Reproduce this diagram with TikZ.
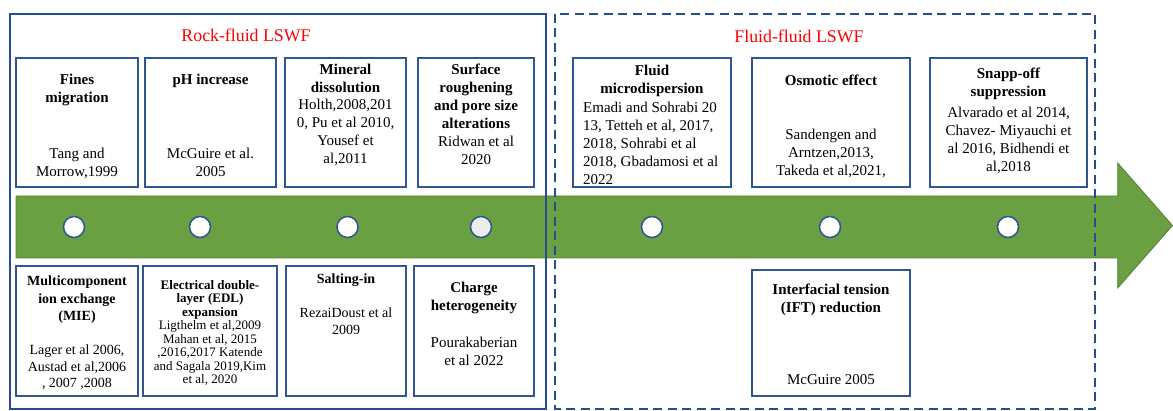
\documentclass[tikz,border=0pt]{standalone}
\usepackage{fontspec}
\setmainfont{Liberation Serif}
\newcommand\setfs[2]{\fontsize{#1}{#2}\selectfont}
\definecolor{frameblue}{RGB}{38,76,145}
\definecolor{boxblue}{RGB}{47,85,151}
\definecolor{arrowgreen}{RGB}{106,159,66}
\definecolor{arrowedge}{RGB}{84,128,52}
\definecolor{dotgray}{RGB}{236,236,236}
\begin{document}
\begin{tikzpicture}[x=1pt,y=-1pt,
  box/.style={draw=boxblue, line width=1.8pt, fill=white, inner sep=0pt},
  ttl/.style={anchor=north, align=center, inner sep=0pt, font=\bfseries\setfs{15}{18}},
  bod/.style={anchor=north, align=center, inner sep=0pt, font=\setfs{15}{18}},
  dot/.style={circle, draw=boxblue, line width=1.5pt, fill=white, minimum size=21pt, inner sep=0pt},
  heading/.style={text=red, font=\setfs{17.8}{20}, inner sep=0pt},
  frame/.style={draw=frameblue, line width=2.5pt}
]
\useasboundingbox (0,0) rectangle (1173,411);

% timeline arrow
\path[fill=arrowgreen, draw=arrowedge, line width=0.8pt]
  (16,196) -- (1117.7,196) -- (1117.7,163) -- (1172.5,225.5) -- (1117.7,288) -- (1117.7,258) -- (16,258) -- cycle;

% dots
\node[dot] (d1) at (74,227) {};
\node[dot] (d2) at (200,227) {};
\node[dot] (d3) at (347.5,227) {};
\node[dot, fill=dotgray] (d4) at (481,227) {};
\node[dot] (d5) at (652,227) {};
\node[dot] (d6) at (830,227) {};
\node[dot] (d7) at (1008,227) {};

% headings
\node[heading] (hrock) at (246,35) {Rock-fluid LSWF};
\node[heading] (hfluid) at (799,36) {Fluid-fluid LSWF};

% top row boxes
\node[box, minimum width=122pt, minimum height=129pt] (b1) at (77,122.5) {};
\node[box, minimum width=131pt, minimum height=129pt] (b2) at (210.5,122.5) {};
\node[box, minimum width=121pt, minimum height=129pt] (b3) at (345.5,122.5) {};
\node[box, minimum width=116pt, minimum height=129pt] (b4) at (476,122.5) {};
\node[box, minimum width=158pt, minimum height=129pt] (b5) at (652,122.5) {};
\node[box, minimum width=158pt, minimum height=129pt] (b6) at (831,122.5) {};
\node[box, minimum width=157pt, minimum height=129pt] (b7) at (1008.5,122.5) {};

% bottom row boxes
\node[box, minimum width=122pt, minimum height=130pt] (b8) at (77,331) {};
\node[box, minimum width=134pt, minimum height=130pt] (b9) at (210,331) {};
\node[box, minimum width=120pt, minimum height=130pt] (b10) at (346,331) {};
\node[box, minimum width=120pt, minimum height=130pt] (b11) at (474,331) {};
\node[box, minimum width=158pt, minimum height=126pt] (b12) at (831,333) {};

% texts top row
\node[ttl] (t1) at (77,71.4) {\strut Fines\\migration};
\node[bod] (s1) at (77,145.4) {\strut Tang and\\Morrow,1999};
\node[ttl] (t2) at (210.5,71.4) {\strut pH increase};
\node[bod] (s2) at (210.5,145.4) {\strut McGuire et al.\\2005};
\node[ttl] (t3) at (345.5,61.4) {\strut Mineral\\dissolution};
\node[bod] (s3) at (345.5,96.4) {\strut Holth,2008,201\\0, Pu et al 2010,\\Yousef et\\al,2011};
\node[ttl] (t4) at (476,61.4) {\strut Surface\\roughening\\and pore size\\alterations};
\node[bod] (s4) at (476,133.4) {\strut Ridwan et al\\2020};
\node[ttl] (t5) at (652,62.4) {\strut Fluid\\microdispersion};
\node[bod, anchor=north west, align=left] (s5) at (583,99.4) {\strut Emadi and Sohrabi 20\\13, Tetteh et al, 2017,\\2018, Sohrabi et al\\2018, Gbadamosi et al\\2022};
\node[ttl] (t6) at (831,72.4) {\strut Osmotic effect};
\node[bod] (s6) at (831,126.4) {\strut Sandengen and\\Arntzen,2013,\\Takeda et al,2021,};
\node[ttl] (t7) at (1008.5,65.4) {\strut Snapp-off\\suppression};
\node[bod] (s7) at (1008.5,104.4) {\strut Alvarado et al 2014,\\Chavez- Miyauchi et\\al 2016, Bidhendi et\\al,2018};

% texts bottom row
\node[ttl, font=\bfseries\setfs{14}{17.5}] (t8) at (77,273.4) {\strut Multicomponent\\ion exchange\\(MIE)};
\node[bod, font=\setfs{14}{16.5}] (s8) at (77,343) {\strut Lager et al 2006,\\Austad et al,2006\\, 2007 ,2008};
\node[ttl, font=\bfseries\setfs{13}{13.5}] (t9) at (210,279.8) {\strut Electrical double-\\layer (EDL)\\expansion};
\node[bod, font=\setfs{13}{13.5}] (s9) at (210,320) {\strut Ligthelm et al,2009\\Mahan et al, 2015\\,2016,2017 Katende\\and Sagala 2019,Kim\\et al, 2020};
\node[ttl, font=\bfseries\setfs{14}{17}] (t10) at (346,271.7) {\strut Salting-in};
\node[bod, font=\setfs{14}{17}] (s10) at (346,305.7) {\strut RezaiDoust et al\\2009};
\node[ttl] (t11) at (474,279.4) {\strut Charge\\heterogeneity};
\node[bod] (s11) at (474,334.4) {\strut Pourakaberian\\et al 2022};
\node[ttl] (t12) at (831,282) {\strut Interfacial tension\\(IFT) reduction};
\node[bod] (s12) at (831,371.4) {\strut McGuire 2005};

% frames
\draw[frame] (10,14) rectangle (546,409);
\draw[frame, dash pattern=on 9pt off 5.5pt] (555,14) rectangle (1095,409);
\end{tikzpicture}
\end{document}
